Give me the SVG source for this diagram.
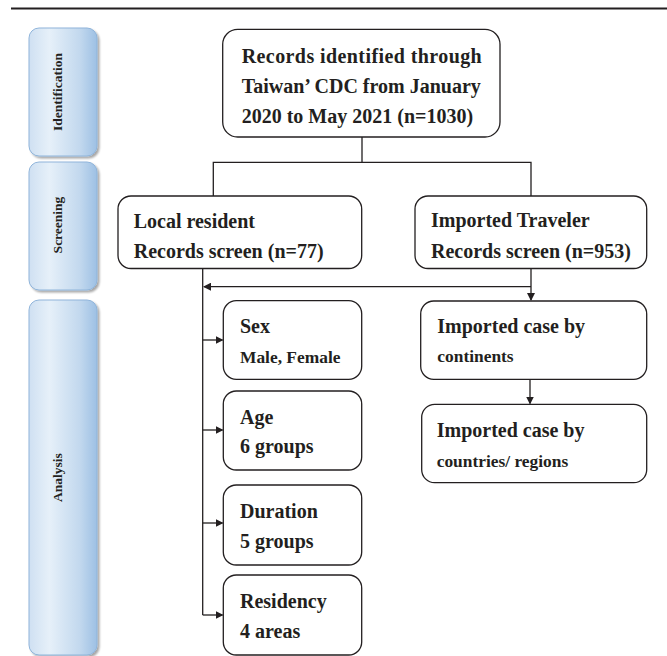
<svg xmlns="http://www.w3.org/2000/svg" width="667" height="656" viewBox="0 0 667 656">
<style>
.box{fill:#fff;stroke:#231f20;stroke-width:1.3}
.t{font-family:"Liberation Serif","Times New Roman",serif;font-weight:bold;font-size:20px;fill:#231f20}
.s{font-size:17.4px}
.side{font-family:"Liberation Serif","Times New Roman",serif;font-weight:bold;font-size:13.5px;fill:#231f20;text-anchor:middle}
.bar{fill:url(#g);stroke:#8fb4da;stroke-width:1}
.ln{fill:none;stroke:#231f20;stroke-width:1.3}
.ar{fill:none;stroke:#231f20;stroke-width:1.3;marker-end:url(#ah)}
</style>
<defs>
<linearGradient id="g" x1="0" y1="0" x2="1" y2="0">
<stop offset="0" stop-color="#cfe0f2"/>
<stop offset="0.3" stop-color="#e6f0f9"/>
<stop offset="0.75" stop-color="#c2d8ee"/>
<stop offset="1" stop-color="#9dc0e4"/>
</linearGradient>
<filter id="sh" x="-10%" y="-10%" width="130%" height="130%">
<feGaussianBlur in="SourceAlpha" stdDeviation="1.2"/>
<feOffset dx="1.5" dy="1.5" result="o"/>
<feComponentTransfer><feFuncA type="linear" slope="0.35"/></feComponentTransfer>
<feMerge><feMergeNode/><feMergeNode in="SourceGraphic"/></feMerge>
</filter>
<marker id="ah" markerWidth="8" markerHeight="8" refX="7" refY="4" orient="auto" markerUnits="userSpaceOnUse">
<path d="M0,0 L8,4 L0,8 Z" fill="#231f20"/>
</marker>
</defs>
<rect width="667" height="656" fill="#fff"/>
<line x1="11" y1="8.5" x2="667" y2="8.5" stroke="#231f20" stroke-width="2"/>

<g id="bar-identification">
<rect class="bar" x="29" y="28" width="68" height="128" rx="10" filter="url(#sh)"/>
<text class="side" transform="translate(61.5,92) rotate(-90)">Identification</text>
</g>
<g id="bar-screening">
<rect class="bar" x="29" y="162" width="68" height="128" rx="10" filter="url(#sh)"/>
<text class="side" transform="translate(61.5,225) rotate(-90)">Screening</text>
</g>
<g id="bar-analysis">
<rect class="bar" x="29" y="300" width="68" height="355" rx="10" filter="url(#sh)"/>
<text class="side" transform="translate(61.5,477.5) rotate(-90)">Analysis</text>
</g>

<g id="connectors">
<path class="ln" d="M362,137 V162.3 M213.3,196 V162.3 H531 V196"/>
<path class="ar" d="M531,268.5 V300"/>
<path class="ar" d="M531,286.7 H204"/>
<path class="ln" d="M202.7,268.5 V615"/>
<path class="ar" d="M202.7,340 H222.5"/>
<path class="ar" d="M202.7,430 H222.5"/>
<path class="ar" d="M202.7,523 H222.5"/>
<path class="ar" d="M202.7,615 H222.5"/>
<path class="ar" d="M530,379.5 V403.5"/>
</g>

<g id="n-records">
<rect class="box" x="222.7" y="29.3" width="277.3" height="107.7" rx="15"/>
<text class="t" x="241.7" y="63.3" textLength="240" lengthAdjust="spacing">Records identified through</text>
<text class="t" x="241.7" y="92.7">Taiwan’ CDC from January</text>
<text class="t" x="241.7" y="122.7">2020 to May 2021 (n=1030)</text>
</g>
<g id="n-local">
<rect class="box" x="118" y="196" width="243.7" height="72.5" rx="13"/>
<text class="t" x="133.7" y="227.7">Local resident</text>
<text class="t" x="133.7" y="258">Records screen (n=77)</text>
</g>
<g id="n-imported">
<rect class="box" x="415" y="196" width="231.7" height="72.5" rx="13"/>
<text class="t" x="431" y="227.3">Imported Traveler</text>
<text class="t" x="431" y="258.3">Records screen (n=953)</text>
</g>
<g id="n-sex">
<rect class="box" x="223.3" y="300.7" width="138.4" height="78.6" rx="13"/>
<text class="t" x="240" y="332.7">Sex</text>
<text class="t s" x="240" y="362.7">Male, Female</text>
</g>
<g id="n-age">
<rect class="box" x="223.3" y="391" width="138.4" height="79" rx="13"/>
<text class="t" x="240" y="424">Age</text>
<text class="t" x="240" y="453">6 groups</text>
</g>
<g id="n-duration">
<rect class="box" x="223.3" y="485" width="138.4" height="80" rx="13"/>
<text class="t" x="240" y="517.7">Duration</text>
<text class="t" x="240" y="548.3">5 groups</text>
</g>
<g id="n-residency">
<rect class="box" x="223.3" y="575" width="138.4" height="80" rx="13"/>
<text class="t" x="240" y="608.3">Residency</text>
<text class="t" x="240" y="638.3">4 areas</text>
</g>
<g id="n-continents">
<rect class="box" x="420.7" y="301" width="226" height="78.3" rx="13"/>
<text class="t" x="437.3" y="333.3">Imported case by</text>
<text class="t s" x="437.3" y="361.7">continents</text>
</g>
<g id="n-countries">
<rect class="box" x="421.7" y="404.3" width="225" height="78.4" rx="13"/>
<text class="t" x="436.7" y="436.7">Imported case by</text>
<text class="t s" x="436.7" y="466.7">countries/ regions</text>
</g>
</svg>
